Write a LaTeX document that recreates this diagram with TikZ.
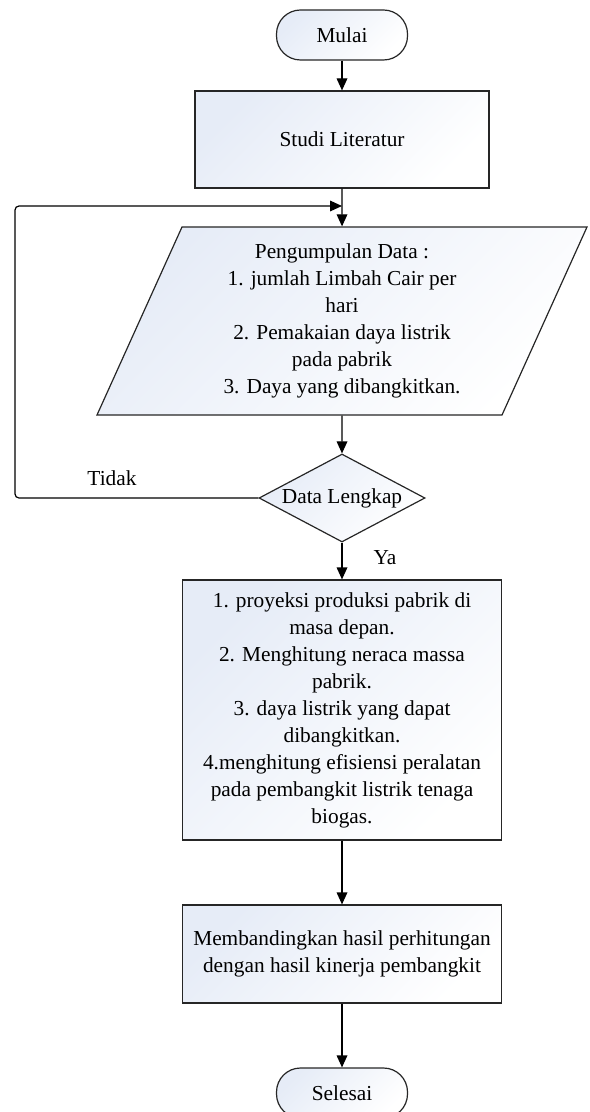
\documentclass[tikz,border=0pt]{standalone}
\usepackage{fontspec}
\setmainfont{Liberation Serif}
\usetikzlibrary{shapes.geometric,arrows.meta}

\definecolor{shadeblue}{RGB}{230,236,247}

\tikzset{
  flowshade/.style={draw=black!85, line width=0.9pt, top color=shadeblue, bottom color=white, shading angle=45},
  terminal/.style={flowshade, rectangle, rounded corners=18pt, minimum width=98.25pt, minimum height=37.5pt, align=center},
  processbox/.style={flowshade, rectangle, align=center},
  inputbox/.style={flowshade, trapezium, trapezium left angle=62.5, trapezium right angle=117.5, trapezium stretches body, minimum width=367.5pt, minimum height=141pt, align=center},
  decision/.style={flowshade, diamond, aspect=2, inner sep=0pt, minimum width=124.5pt, minimum height=66pt},
  flowline/.style={draw=black, line width=0.9pt, -{Triangle[length=9pt,width=8pt]}}
}

\begin{document}
\begin{tikzpicture}[x=0.75pt, y=-0.75pt, font=\fontsize{16}{20.25}\selectfont]
    % Fix the page size
    \useasboundingbox (0,0) rectangle (589,1112);

    % Draw the nodes
    \node[terminal] (mulai) at (342,35) {Mulai};
    \node[processbox, minimum width=220.5pt, minimum height=72.75pt] (studi) at (342,139.5) {Studi Literatur};
    \node[inputbox] (data) at (342,321) {Pengumpulan Data :\\1. jumlah Limbah Cair per\\hari\\2. Pemakaian daya listrik\\pada pabrik\\3. Daya yang dibangkitkan.};
    \node[decision] (lengkap) at (342,498) {Data Lengkap};
    \node[processbox, minimum width=239.25pt, minimum height=195pt] (hitung) at (342,710) {1. proyeksi produksi pabrik di\\masa depan.\\2. Menghitung neraca massa\\pabrik.\\3. daya listrik yang dapat\\dibangkitkan.\\4.menghitung efisiensi peralatan\\pada pembangkit listrik tenaga\\biogas.};
    \node[processbox, minimum width=239.25pt, minimum height=73.5pt] (banding) at (342,954) {Membandingkan hasil perhitungan\\dengan hasil kinerja pembangkit};
    \node[terminal] (selesai) at (342,1093) {Selesai};

    % Add the branch labels
    \node (tidak) at (112,478) {Tidak};
    \node (ya) at (385,558) {Ya};

    % Draw the connectors
    \coordinate (join) at (342,206);
    \coordinate (corner) at (15,206);
    \draw[flowline] (mulai) -- (studi);
    \draw[flowline] (studi) -- (data);
    \draw[flowline] (data) -- (lengkap);
    \draw[flowline] (lengkap) -- (hitung);
    \draw[flowline] (hitung) -- (banding);
    \draw[flowline] (banding) -- (selesai);
    \draw[flowline, rounded corners=3pt] (lengkap.west) -| (corner) -- (join);
\end{tikzpicture}
\end{document}
